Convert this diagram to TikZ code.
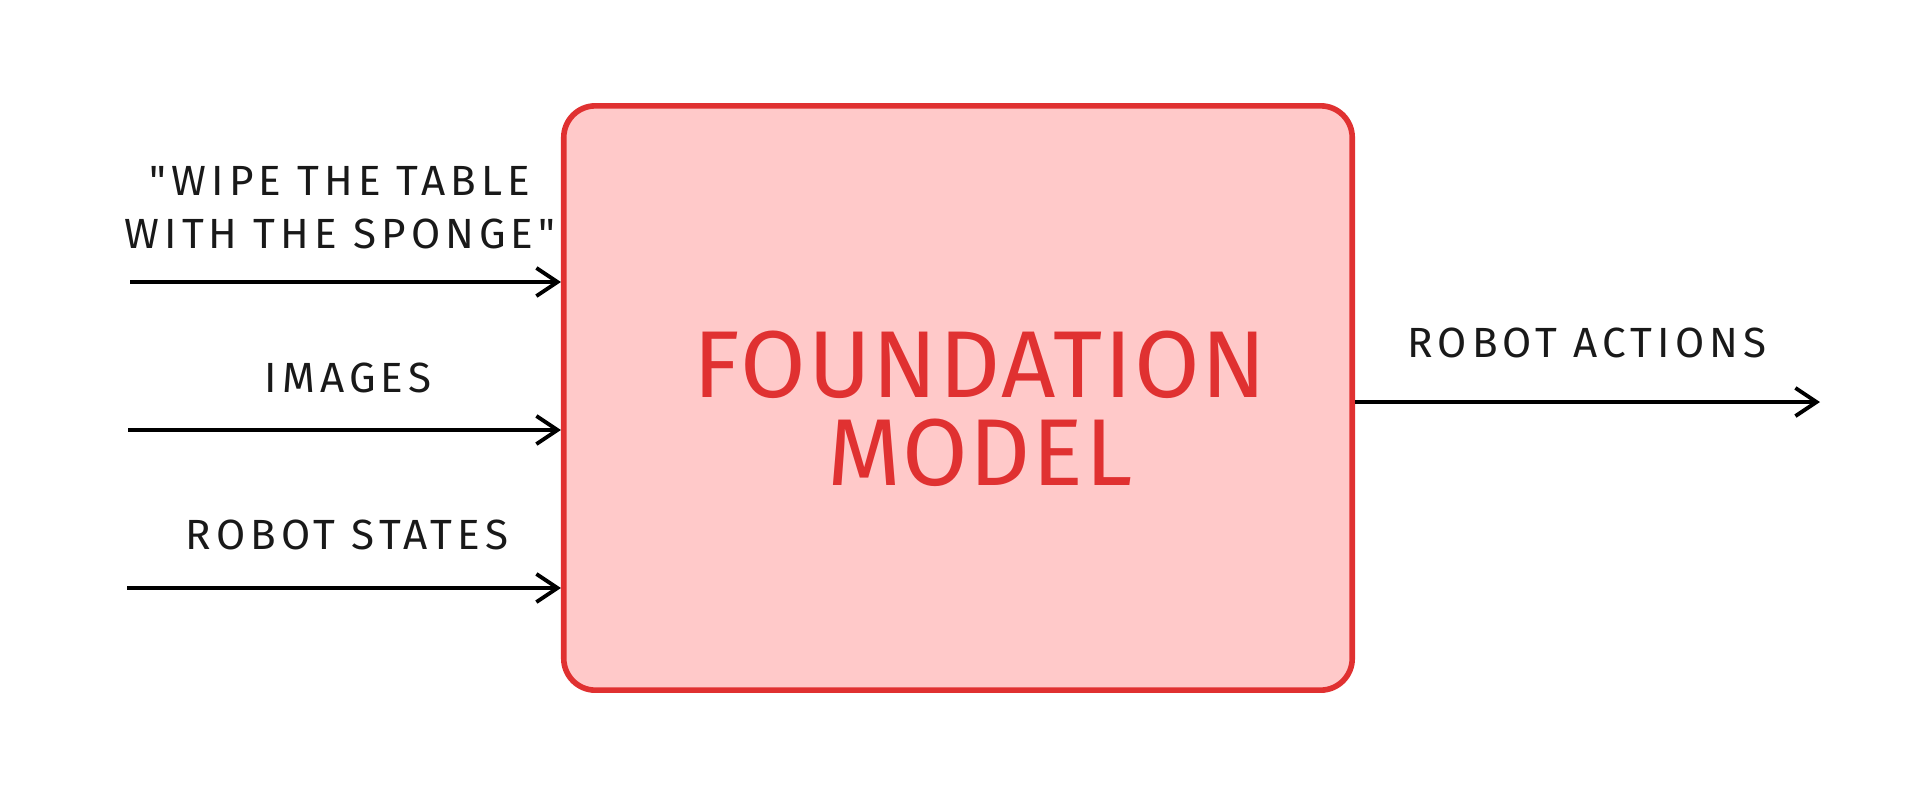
\documentclass[tikz,border=0pt]{standalone}
\usepackage{fontspec}
\setmainfont{Fira Sans}[Ligatures=TeXOff]
\usetikzlibrary{arrows.meta}
\definecolor{fmred}{HTML}{E03131}
\definecolor{fmpink}{HTML}{FFC9C9}
\tikzset{
  lbl/.style={font=\fontsize{12}{15}\selectfont\addfontfeature{LetterSpace=12}, align=center, text=black!90},
  arr/.style={line width=1.1pt, -{Straight Barb[length=6pt,width=8pt,line width=1.1pt]}}
}
\begin{document}
\begin{tikzpicture}[x=0.01cm, y=-0.01cm]
\useasboundingbox (0,0) rectangle (1920,802);
\node[draw=fmred, fill=fmpink, line width=1.6pt, rounded corners=9pt, minimum width=7.88cm, minimum height=5.84cm, inner sep=0pt] (fm) at (958,398){};
\node[font=\fontsize{27}{25}\selectfont\addfontfeature{LetterSpace=2}, text=fmred, align=center] (fmtxt) at (980,409){FOUNDATION\\MODEL};
\coordinate (in0) at (130,282);
\coordinate (in1) at (128,430);
\coordinate (in2) at (127,588);
\coordinate (out0) at (1820,402);
\draw[arr] (in0) -- (in0 -| fm.west);
\draw[arr] (in1) -- (in1 -| fm.west);
\draw[arr] (in2) -- (in2 -| fm.west);
\draw[arr] (out0 -| fm.east) -- (out0);
\node[lbl] (l0) at (340,208){"WIPE THE TABLE\\WITH THE SPONGE"};
\node[lbl] (l1) at (348,378){IMAGES};
\node[lbl] (l2) at (347,535){ROBOT STATES};
\node[lbl] (l3) at (1587,343){ROBOT ACTIONS};

\end{tikzpicture}
\end{document}
